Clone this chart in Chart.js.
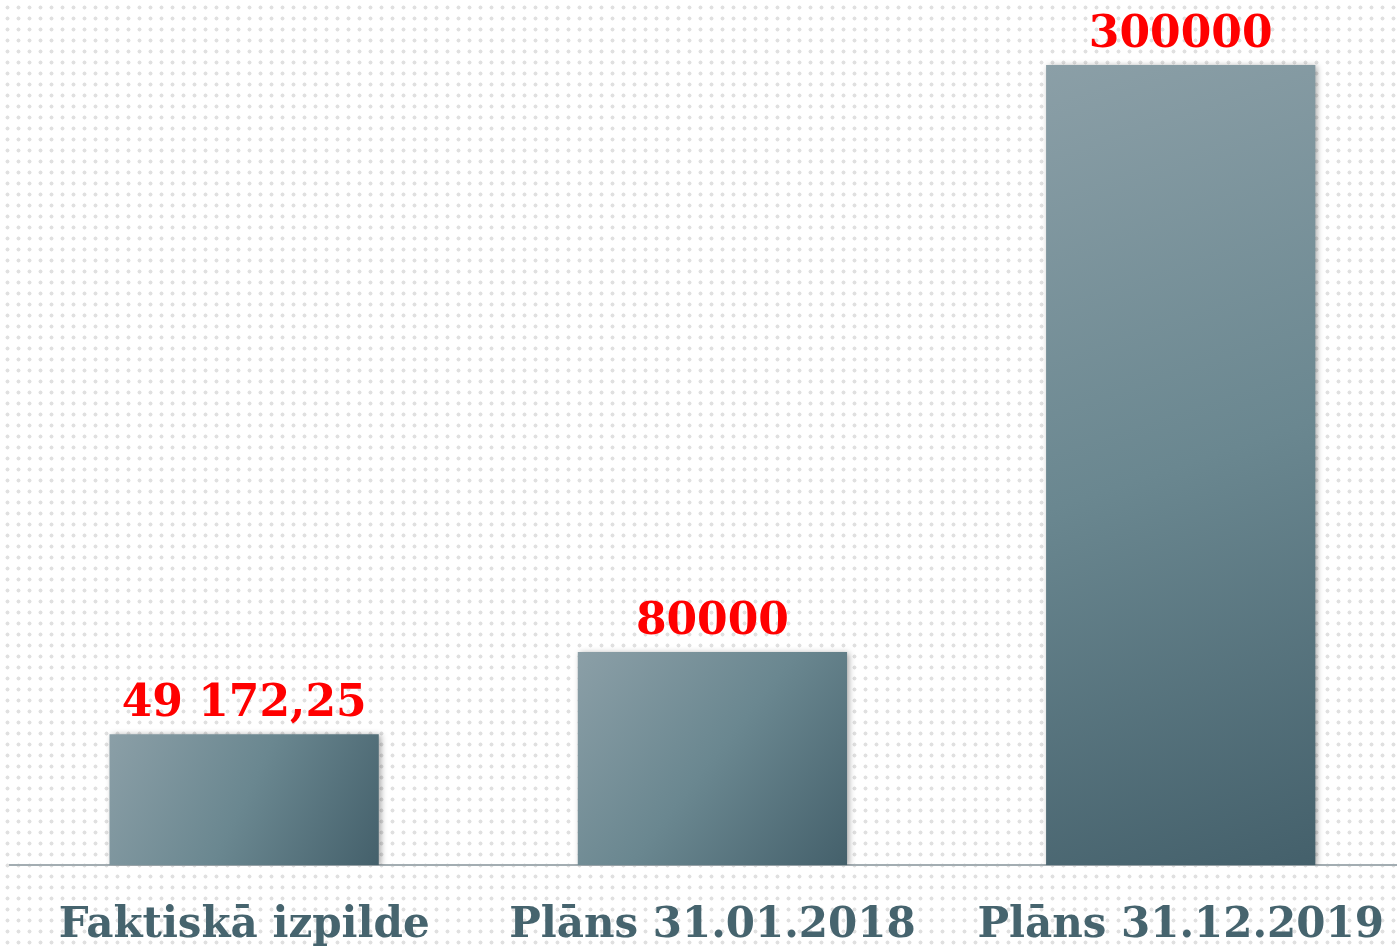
<!DOCTYPE html>
<html>
<head>
<meta charset="utf-8">
<script src="https://cdn.jsdelivr.net/npm/chart.js@4.4.1/dist/chart.umd.min.js"></script>
<style>
    html, body {
        margin: 0;
        padding: 0;
        width: 1397px;
        height: 946px;
        overflow: hidden;
        background-color: #ffffff;
        background-image: radial-gradient(#e0e0e0 1.7px, transparent 2.3px);
        background-size: 11px 11px;
        background-position: 2px 2px;
    }
    #planChart {
        position: absolute;
        left: 0;
        top: 0;
    }
</style>
</head>
<body>
<canvas id="planChart" width="1419" height="946"></canvas>
<script>
const categories = ["Faktiskā izpilde", "Plāns 31.01.2018", "Plāns 31.12.2019"];
const values = [49172.25, 80000, 300000];
const valueLabels = ["49 172,25", "80000", "300000"];

// gradient for each bar, from light top-left to dark bottom-right
function barGradient(context) {
    const chart = context.chart;
    const { ctx, chartArea, scales } = chart;
    if (!chartArea || context.dataIndex === undefined) {
        return "#5f7b85";
    }
    const i = context.dataIndex;
    const cx = scales.x.getPixelForValue(i);
    const half = scales.x.width / categories.length * 0.575 / 2;
    const top = scales.y.getPixelForValue(values[i]);
    const bottom = scales.y.getPixelForValue(0);
    const g = ctx.createLinearGradient(cx - half, top, cx + half, bottom);
    g.addColorStop(0, "#8b9fa7");
    g.addColorStop(0.5, "#6a8790");
    g.addColorStop(1, "#44606b");
    return g;
}

const barShadow = {
    id: "barShadow",
    beforeDatasetDraw(chart) {
        const ctx = chart.ctx;
        ctx.save();
        ctx.shadowColor = "rgba(0, 0, 0, 0.35)";
        ctx.shadowBlur = 6;
        ctx.shadowOffsetX = 2;
        ctx.shadowOffsetY = 1;
    },
    afterDatasetDraw(chart) {
        chart.ctx.restore();
    },
};

const valueText = {
    id: "valueText",
    afterDatasetsDraw(chart) {
        const ctx = chart.ctx;
        const meta = chart.getDatasetMeta(0);
        ctx.save();
        ctx.font = "bold 44px 'DejaVu Serif'";
        ctx.fillStyle = "#ff0000";
        ctx.textAlign = "center";
        ctx.textBaseline = "alphabetic";
        meta.data.forEach((bar, i) => {
            ctx.fillText(valueLabels[i], bar.x, bar.y - 18);
        });
        ctx.restore();
    },
};

new Chart(document.getElementById("planChart"), {
    type: "bar",
    data: {
        labels: categories,
        datasets: [
            {
                data: values,
                backgroundColor: barGradient,
                borderWidth: 0,
                barPercentage: 0.575,
                categoryPercentage: 1,
            },
        ],
    },
    options: {
        responsive: false,
        animation: false,
        layout: {
            padding: { left: 10, right: 0, top: 0, bottom: -41 },
        },
        scales: {
            x: {
                grid: { display: false, drawTicks: false },
                border: { display: true, color: "#a3adb2", width: 2 },
                ticks: {
                    padding: 35,
                    color: "#46646e",
                    font: { family: "DejaVu Serif", weight: "bold", size: 42, lineHeight: 1.23 },
                    maxRotation: 0,
                    autoSkip: false,
                },
            },
            y: {
                display: false,
                min: 0,
                max: 324400,
            },
        },
        plugins: {
            legend: { display: false },
            tooltip: { enabled: false },
        },
    },
    plugins: [barShadow, valueText],
});
</script>
</body>
</html>
